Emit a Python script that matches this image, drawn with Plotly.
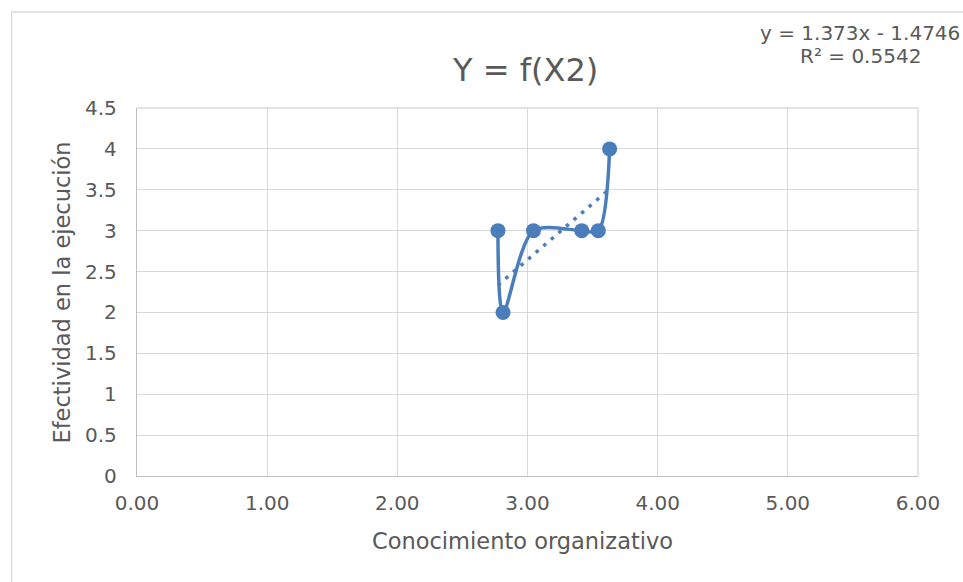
import plotly.graph_objects as go

# Data
x_vals = [2.773, 2.812, 3.046, 3.417, 3.544, 3.631]
y_vals = [3, 2, 3, 3, 3, 4]
trend_slope = 1.373
trend_intercept = -1.4746
r_squared = 0.5542

title_text = "Y = f(X2)"
x_title = "Conocimiento organizativo"
y_title = "Efectividad en la ejecución"

W, H = 963, 582
L, R, T, B = 136.5, 963 - 918, 108, 582 - 476
pw, ph = W - L - R, H - T - B

def px_x(p):
    return (p - L) / pw

def px_y(p):
    return (H - B - p) / ph

blue = "#4A7EBB"
txt = "#595959"
font = "DejaVu Sans"

trend_x = [min(x_vals), max(x_vals)]
trend_y = [trend_slope * v + trend_intercept for v in trend_x]

fig = go.Figure()
fig.add_trace(go.Scatter(
    x=x_vals, y=y_vals, mode="lines+markers",
    line=dict(color=blue, width=3.5, shape="spline", smoothing=0.85),
    marker=dict(color=blue, size=15),
    showlegend=False, hoverinfo="skip"))
fig.add_trace(go.Scatter(
    x=trend_x, y=trend_y, mode="lines",
    line=dict(color=blue, width=3.5, dash="3.5px,6.5px"),
    showlegend=False, hoverinfo="skip"))

fig.update_layout(
    width=W, height=H,
    margin=dict(l=L, r=R, t=T, b=B, pad=0),
    paper_bgcolor="white", plot_bgcolor="white",
    font=dict(family=font, color=txt, size=20),
    xaxis=dict(range=[0, 6], dtick=1, tick0=0, tickformat=".2f",
               showgrid=True, gridcolor="#D9D9D9", gridwidth=1.3,
               showline=True, linecolor="#BFBFBF", linewidth=1.3,
               zeroline=False, ticks="", ticklabelstandoff=9,
               tickfont=dict(size=20, color=txt, family=font)),
    yaxis=dict(range=[0, 4.5], dtick=0.5, tick0=0,
               showgrid=True, gridcolor="#D9D9D9", gridwidth=1.3,
               showline=True, linecolor="#BFBFBF", linewidth=1.3,
               zeroline=False, ticks="", ticklabelstandoff=15,
               tickfont=dict(size=20, color=txt, family=font)),
    shapes=[
        dict(type="rect", xref="paper", yref="paper",
             x0=px_x(11), x1=px_x(1100), y0=px_y(700), y1=px_y(12),
             line=dict(color="#D9D9D9", width=1.3), layer="below"),
        dict(type="line", xref="paper", yref="paper",
             x0=0, x1=1, y0=1, y1=1,
             line=dict(color="#D9D9D9", width=1.3), layer="below"),
        dict(type="line", xref="paper", yref="paper",
             x0=1, x1=1, y0=0, y1=1,
             line=dict(color="#D9D9D9", width=1.3), layer="below"),
    ],
    annotations=[
        dict(text=title_text, xref="paper", yref="paper",
             x=px_x(525), y=px_y(70), xanchor="center", yanchor="middle",
             showarrow=False, font=dict(size=32, color=txt, family=font)),
        dict(text=f"y = {trend_slope}x - {abs(trend_intercept)}", xref="paper", yref="paper",
             x=px_x(860), y=px_y(33), xanchor="center", yanchor="middle",
             showarrow=False, font=dict(size=20, color=txt, family=font)),
        dict(text=f"R² = {r_squared}", xref="paper", yref="paper",
             x=px_x(860), y=px_y(56), xanchor="center", yanchor="middle",
             showarrow=False, font=dict(size=20, color=txt, family=font)),
        dict(text=x_title, xref="paper", yref="paper",
             x=px_x(522), y=px_y(541), xanchor="center", yanchor="middle",
             showarrow=False, font=dict(size=22.5, color=txt, family=font)),
        dict(text=y_title, xref="paper", yref="paper",
             x=px_x(61), y=px_y(293), xanchor="center", yanchor="middle",
             textangle=-90,
             showarrow=False, font=dict(size=22.5, color=txt, family=font)),
    ],
)

fig.write_html("out.html")
